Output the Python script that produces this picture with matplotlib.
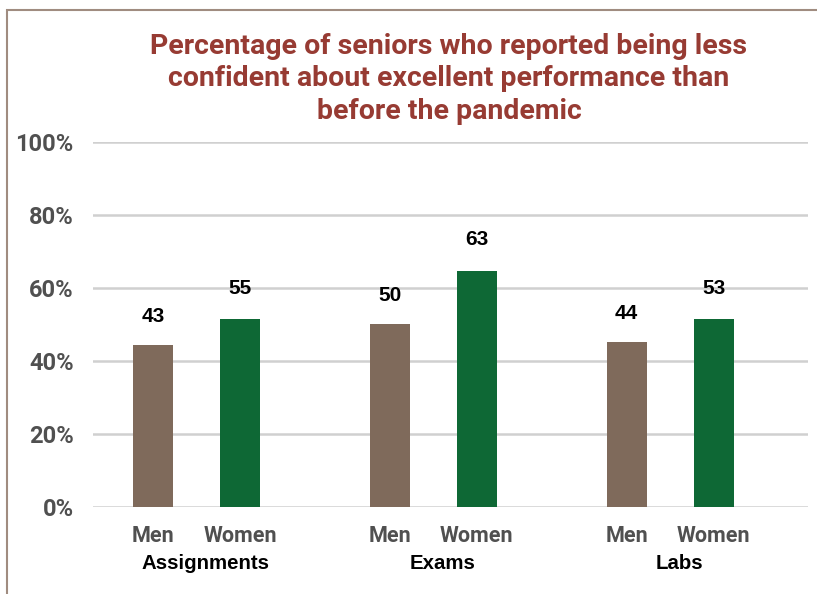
import numpy as np
import matplotlib
matplotlib.use("Agg")
import matplotlib.pyplot as plt
from matplotlib.patches import Rectangle

# data
groups = ["Assignments", "Exams", "Labs"]
men_bar = [44.3, 50.0, 45.1]      # bar heights as drawn (%)
women_bar = [51.4, 64.6, 51.4]
men_labels = ["43", "50", "44"]   # data labels as printed
women_labels = ["55", "63", "53"]
yticks = [0, 20, 40, 60, 80, 100]

men_color = "#7F6A5B"
women_color = "#0E6835"
title_color = "#973B33"
tick_gray = "#505050"

fig = plt.figure(figsize=(8.17, 5.94), dpi=100)
ax = fig.add_axes([93 / 817, 87.3 / 594, 715 / 817, 365 / 594])

x = np.arange(len(groups))
off = 0.1835
w = 0.169
ax.bar(x - off, men_bar, width=w, color=men_color, zorder=3)
ax.bar(x + off, women_bar, width=w, color=women_color, zorder=3)

for xi, h, lab in zip(x - off, men_bar, men_labels):
    ax.text(xi, h + 7.8, lab, ha="center", va="center", fontsize=15,
            fontweight="bold", family="Liberation Sans", color="black")
for xi, h, lab in zip(x + off, women_bar, women_labels):
    ax.text(xi, h + 8.5, lab, ha="center", va="center", fontsize=15,
            fontweight="bold", family="Liberation Sans", color="black")

ax.set_xlim(-0.437, 2.582)
ax.set_ylim(0, 100)
ax.set_yticks(yticks)
ax.set_yticklabels([f"{v}%" for v in yticks], fontsize=17, fontweight="bold",
                   family="Roboto", color=tick_gray)
ax.yaxis.grid(True, color="#D0D0D0", linewidth=1.8, zorder=0)
ax.tick_params(axis="y", length=0, pad=14)

pos = np.concatenate([x - off, x + off])
labs = ["Men"] * 3 + ["Women"] * 3
ax.set_xticks(pos)
ax.set_xticklabels(labs, fontsize=15.5, fontweight="bold", family="Roboto",
                   color=tick_gray)
ax.tick_params(axis="x", length=0, pad=13)

for xi, g in zip(x, groups):
    ax.text(xi + 0.04, -15.6, g, ha="center", va="center", fontsize=14.7,
            fontweight="bold", family="Liberation Sans", color="black")

for s in ax.spines.values():
    s.set_visible(False)

fig.text(449 / 817, 1 - 79 / 594,
         "Percentage of seniors who reported being less\n"
         "confident about excellent performance than\n"
         "before the pandemic",
         ha="center", va="center", fontsize=20.5, fontweight="bold",
         family="Roboto", color=title_color, linespacing=1.24)

# outer frame (top and left edges visible)
fig.patches.append(Rectangle((7 / 817, -0.1), 1.2, 1.1 - 10 / 594,
                             transform=fig.transFigure, fill=False,
                             edgecolor="#A08C80", linewidth=1.5))

fig.savefig("out.png", dpi=100)
